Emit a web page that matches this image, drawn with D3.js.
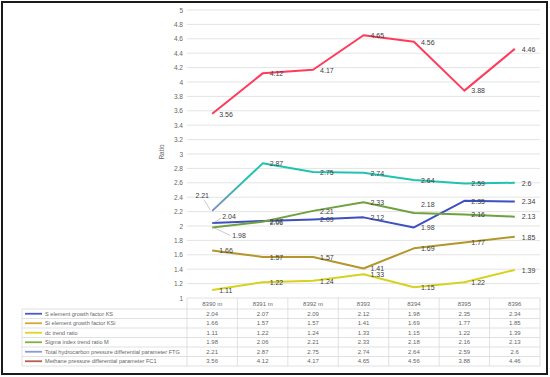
<!DOCTYPE html>
<html><head><meta charset="utf-8">
<script src="https://cdn.jsdelivr.net/npm/d3@7"></script>
<style>html,body{margin:0;padding:0;background:#fff;}svg{display:block;font-family:"Liberation Sans","Open Sans",sans-serif;}</style>
</head><body>
<svg id="c" width="550" height="377"></svg>
<script>
const categories = ["8390 m","8391 m","8392 m","8393","8394","8395","8396"];
const seriesNames = ["S element growth factor KS","Si element growth factor KSi","dc trend ratio","Sigma index trend ratio M","Total hydrocarbon pressure differential parameter FTG","Methane pressure differential parameter FC1"];
const ks  = [2.04,2.07,2.09,2.12,1.98,2.35,2.34];
const ksi = [1.66,1.57,1.57,1.41,1.69,1.77,1.85];
const dc  = [1.11,1.22,1.24,1.33,1.15,1.22,1.39];
const m   = [1.98,2.06,2.21,2.33,2.18,2.16,2.13];
const ftg = [2.21,2.87,2.75,2.74,2.64,2.59,2.6];
const fc1 = [3.56,4.12,4.17,4.65,4.56,3.88,4.46];
const yTicks = [1,1.2,1.4,1.6,1.8,2,2.2,2.4,2.6,2.8,3,3.2,3.4,3.6,3.8,4,4.2,4.4,4.6,4.8,5];
const yTitle = "Ratio";

const lineColors = ["#3d4fc2","#b3962c","#d6d21e","#6ea23e","#1fc3ae","#ff3a5a"];
const keyColors  = ["#4a5ac8","#d2aa34","#d8d820","#7fb042","#8a9ad2","#b0624a"];
const data = [ks,ksi,dc,m,ftg,fc1];

const svg = d3.select("#c");
const L = 187, R = 540, T = 10, B = 298;
const x = d3.scaleBand().domain(categories).range([L,R]).padding(0);
const cx = c => x(c) + x.bandwidth()/2;
const y = d3.scaleLinear().domain([1,5]).range([B,T]);

// frame
svg.append("rect").attr("x",2).attr("y",2).attr("width",545).attr("height",372)
  .attr("fill","none").attr("stroke","#1a1a1a").attr("stroke-width",2);

// gridlines
svg.append("g").selectAll("line").data(yTicks.filter(t=>t>1)).join("line")
  .attr("x1",L).attr("x2",R).attr("y1",d=>y(d)).attr("y2",d=>y(d))
  .attr("stroke","#e4e4e4").attr("stroke-width",1);

// y axis labels
const yAxis = d3.axisLeft(y).tickValues(yTicks).tickSize(0).tickPadding(4).tickFormat(d3.format("~g"));
const ya = svg.append("g").attr("transform",`translate(${L},0)`).call(yAxis);
ya.select(".domain").remove();
ya.selectAll("text").attr("font-size",6.5).attr("fill","#666").attr("x",-4);

svg.append("text").attr("transform",`translate(164,152) rotate(-90)`).attr("text-anchor","middle")
  .attr("font-size",6.5).attr("fill","#666").text(yTitle);

// gradient for FTG first segment
const defs = svg.append("defs");
const g = defs.append("linearGradient").attr("id","ftgGrad").attr("gradientUnits","userSpaceOnUse")
  .attr("x1",cx(categories[0])).attr("x2",cx(categories[1])).attr("y1",0).attr("y2",0);
g.append("stop").attr("offset","0%").attr("stop-color","#7f8cc6");
g.append("stop").attr("offset","70%").attr("stop-color","#1fc3ae");
g.append("stop").attr("offset","100%").attr("stop-color","#1fc3ae");

const line = d3.line().x((d,i)=>cx(categories[i])).y(d=>y(d));
data.forEach((s,k)=>{
  svg.append("path").datum(s).attr("d",line).attr("fill","none")
    .attr("stroke", k===4 ? "url(#ftgGrad)" : lineColors[k])
    .attr("stroke-width",2).attr("stroke-linejoin","round");
});

// data labels
const fmt = d3.format("~g");
const special = {
  "4-0": {dx:-10, dy:-15, anchor:"middle", leader:true},
  "0-0": {dx:10, dy:-6, anchor:"start", leader:true},
  "3-0": {dx:20, dy:9, anchor:"start", leader:true},
  "3-4": {dx:7, dy:-8, anchor:"start"}
};
const lbl = svg.append("g").attr("font-size",7).attr("fill","#404040");
data.forEach((s,k)=>{
  s.forEach((v,i)=>{
    const px = cx(categories[i]), py = y(v);
    const sp = special[k+"-"+i] || {dx:7, dy:1, anchor:"start"};
    const tx = px + sp.dx, ty = py + sp.dy;
    if (sp.leader) {
      let lx2, ly2;
      if (k===4) { lx2 = tx+2; ly2 = ty+4; }
      else if (k===0) { lx2 = tx-1; ly2 = ty+1; }
      else { lx2 = tx-2; ly2 = ty-1; }
      lbl.append("line").attr("x1",px+(k===4?-2:1)).attr("y1",py+(k===4?-1:0)).attr("x2",lx2).attr("y2",ly2)
        .attr("stroke","#a6a6a6").attr("stroke-width",0.6);
    }
    lbl.append("text").attr("x",tx).attr("y",ty).attr("dominant-baseline","middle")
      .attr("text-anchor",sp.anchor).text(fmt(v));
  });
});

// data table
const tTop = 298, hdrH = 11, rowH = 9.5;
const tbl = svg.append("g");
const rowsBottom = tTop + hdrH + rowH*6;
const bounds = categories.map(c=>x(c)).concat([R]);
tbl.selectAll("line.v").data(bounds).join("line")
  .attr("x1",d=>d).attr("x2",d=>d).attr("y1",tTop).attr("y2",rowsBottom)
  .attr("stroke","#d9d9d9").attr("stroke-width",0.8);
tbl.append("line").attr("x1",L).attr("x2",R).attr("y1",tTop).attr("y2",tTop).attr("stroke","#d9d9d9").attr("stroke-width",0.8);
d3.range(7).forEach(r=>{
  const yy = tTop + hdrH + r*rowH;
  tbl.append("line").attr("x1",22).attr("x2",R).attr("y1",yy).attr("y2",yy).attr("stroke","#d9d9d9").attr("stroke-width",0.8);
});
tbl.append("line").attr("x1",22).attr("x2",22).attr("y1",tTop+hdrH).attr("y2",rowsBottom).attr("stroke","#d9d9d9").attr("stroke-width",0.8);
tbl.selectAll("text.h").data(categories).join("text")
  .attr("x",d=>cx(d)).attr("y",tTop+hdrH/2+0.5).attr("text-anchor","middle").attr("dominant-baseline","middle")
  .attr("font-size",6).attr("fill","#666").text(d=>d);
seriesNames.forEach((n,k)=>{
  const yy = tTop + hdrH + k*rowH + rowH/2;
  tbl.append("line").attr("x1",25).attr("x2",42).attr("y1",yy).attr("y2",yy)
    .attr("stroke",keyColors[k]).attr("stroke-width",1.8);
  tbl.append("text").attr("x",45).attr("y",yy+0.5).attr("dominant-baseline","middle")
    .attr("font-size",5.6).attr("fill","#666").text(n);
  data[k].forEach((v,i)=>{
    tbl.append("text").attr("x",cx(categories[i])).attr("y",yy+0.5).attr("text-anchor","middle")
      .attr("dominant-baseline","middle").attr("font-size",6).attr("fill","#666").text(fmt(v));
  });
});
</script>
</body></html>
